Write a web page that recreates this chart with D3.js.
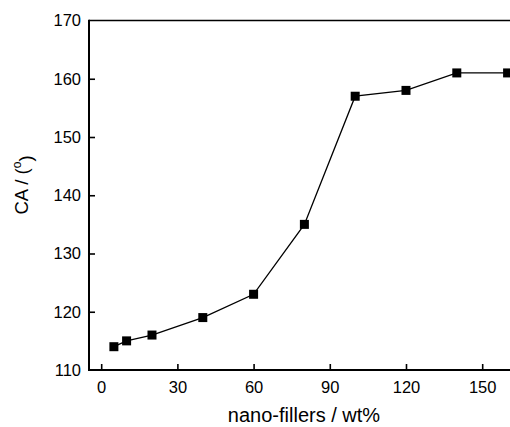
<!DOCTYPE html>
<html>
<head>
<meta charset="utf-8">
<script src="https://cdn.jsdelivr.net/npm/d3@7"></script>
<style>
  html, body { margin: 0; padding: 0; background: #fff; }
  svg { display: block; font-family: "Liberation Sans", Arial, sans-serif; }
</style>
</head>
<body>
<svg id="chart" width="510" height="427"></svg>
<script>
// Contact angle vs. nano-filler loading
const fillerLoading = [5, 10, 20, 40, 60, 80, 100, 120, 140, 160];
const contactAngle = [114, 115, 116, 119, 123, 135, 157, 158, 161, 161];
const xTickValues = [0, 30, 60, 90, 120, 150];
const yTickValues = [110, 120, 130, 140, 150, 160, 170];

const svg = d3.select("#chart");
const plotLeft = 89, plotTop = 20.5, plotBottom = 370;

const x = d3.scaleLinear().domain([-4.8, 170]).range([plotLeft, plotLeft + 174.8 * 2.54]);
const y = d3.scaleLinear().domain([110, 170]).range([plotBottom, plotTop]);

// Frame: top edge and axes
svg.append("line")
  .attr("x1", plotLeft).attr("x2", 512)
  .attr("y1", plotTop).attr("y2", plotTop)
  .attr("stroke", "#000").attr("stroke-width", 1.6);

const xAxis = svg.append("g")
  .attr("transform", `translate(0,${plotBottom})`)
  .call(d3.axisBottom(x).tickValues(xTickValues).tickSizeInner(-6).tickSizeOuter(0).tickPadding(11));
const yAxis = svg.append("g")
  .attr("transform", `translate(${plotLeft},0)`)
  .call(d3.axisLeft(y).tickValues(yTickValues).tickSizeInner(-6).tickSizeOuter(0).tickPadding(8));

[xAxis, yAxis].forEach(g => {
  g.select(".domain").attr("stroke", "#000").attr("stroke-width", 2);
  g.selectAll(".tick line").attr("stroke", "#000").attr("stroke-width", 1.6);
  g.selectAll(".tick text").attr("fill", "#000")
    .style("font-size", "16.5px").style("font-family", "'Liberation Sans', Arial, sans-serif");
});
xAxis.select(".domain").attr("d", `M${plotLeft},0H512`);
yAxis.select(".domain").attr("d", `M0,${plotBottom + 1}V${plotTop - 0.8}`);
yAxis.selectAll(".tick").filter(d => d === 110 || d === 170).select("line").remove();

// Data line and square markers
const pts = fillerLoading.map((v, i) => [v, contactAngle[i]]);
svg.append("path")
  .datum(pts)
  .attr("fill", "none").attr("stroke", "#000").attr("stroke-width", 1.3)
  .attr("d", d3.line().x(d => x(d[0])).y(d => y(d[1])));

const ms = 9;
svg.selectAll("rect.pt")
  .data(pts).enter().append("rect")
  .attr("class", "pt")
  .attr("x", d => x(d[0]) - ms / 2).attr("y", d => y(d[1]) - ms / 2)
  .attr("width", ms).attr("height", ms)
  .attr("fill", "#000");

// Axis titles
svg.append("text")
  .attr("x", 304).attr("y", 422)
  .attr("text-anchor", "middle")
  .style("font-size", "20px")
  .text("nano-fillers / wt%");

const yt = svg.append("text")
  .attr("transform", "translate(28,185) rotate(-90)")
  .attr("text-anchor", "middle")
  .style("font-size", "18.5px");
yt.append("tspan").text("CA / (");
yt.append("tspan").attr("dy", "-0.55em").style("font-size", "12px").text("o");
yt.append("tspan").attr("dy", "0.55em").text(")");
</script>
</body>
</html>
